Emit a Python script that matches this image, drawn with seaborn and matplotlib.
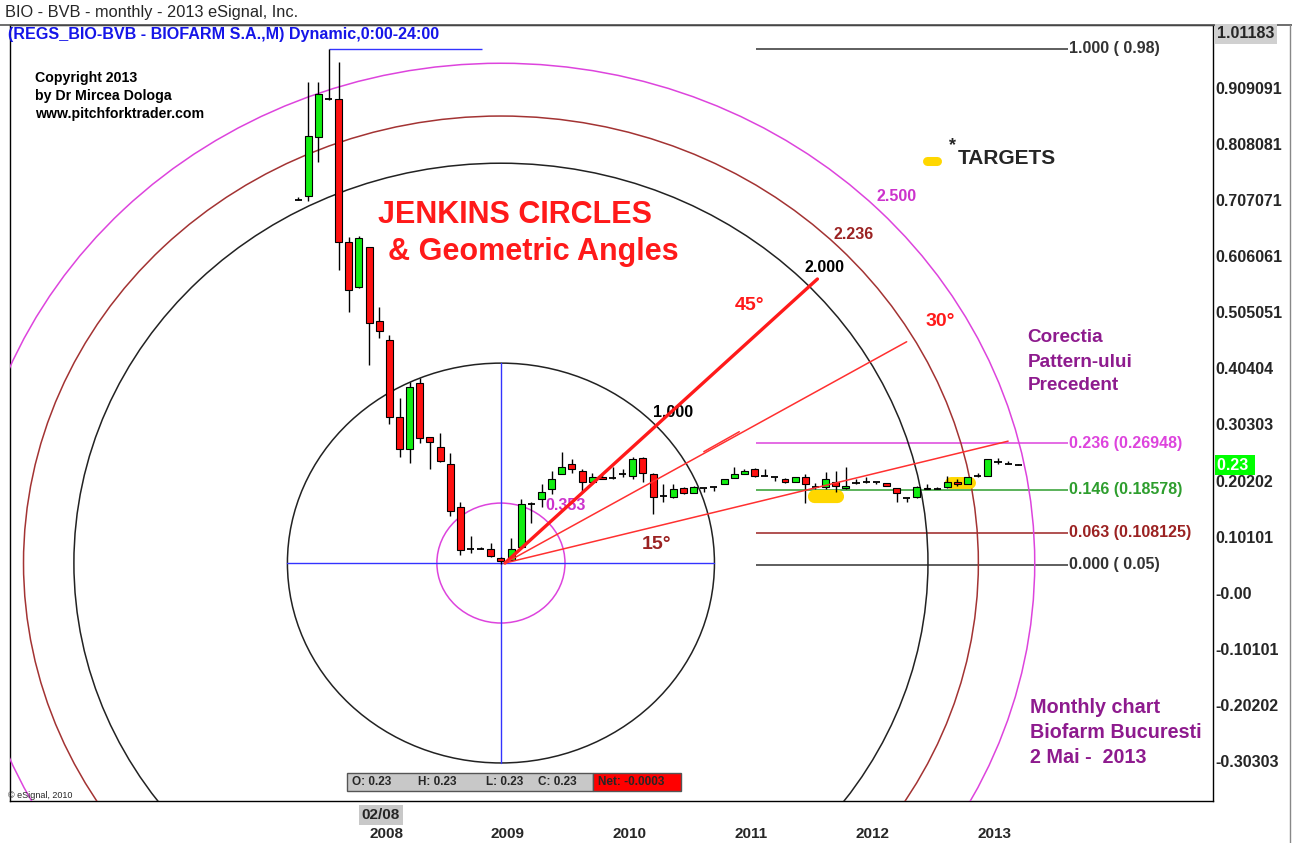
import numpy as np
import pandas as pd
import seaborn as sns
from matplotlib import pyplot as plt
from matplotlib.patches import Ellipse, Rectangle
from matplotlib.lines import Line2D

# monthly OHLC, BIO (Biofarm) - Jun 2007 .. May 2013
opens = [0.708, 0.715, 0.820, 0.890, 0.890, 0.631, 0.550, 0.622, 0.490, 0.456,
         0.317, 0.259, 0.377, 0.281, 0.263, 0.232, 0.155, 0.079, 0.079, 0.079,
         0.063, 0.059, 0.083, 0.159, 0.168, 0.186, 0.214, 0.232, 0.220, 0.200,
         0.209, 0.207, 0.213, 0.211, 0.243, 0.213, 0.175, 0.173, 0.189, 0.180,
         0.189, 0.191, 0.196, 0.207, 0.214, 0.223, 0.211, 0.209, 0.204, 0.200,
         0.209, 0.191, 0.191, 0.200, 0.189, 0.198, 0.200, 0.200, 0.198, 0.189,
         0.171, 0.173, 0.189, 0.186, 0.191, 0.200, 0.196, 0.211, 0.211, 0.236,
         0.232, 0.230]
highs = [0.713, 0.919, 0.919, 0.980, 0.955, 0.641, 0.643, 0.623, 0.515, 0.465,
         0.351, 0.380, 0.386, 0.281, 0.288, 0.252, 0.164, 0.103, 0.083, 0.090,
         0.065, 0.099, 0.168, 0.164, 0.195, 0.220, 0.254, 0.240, 0.223, 0.216,
         0.216, 0.227, 0.223, 0.245, 0.245, 0.216, 0.196, 0.195, 0.191, 0.193,
         0.189, 0.191, 0.204, 0.227, 0.223, 0.225, 0.223, 0.209, 0.207, 0.209,
         0.213, 0.198, 0.218, 0.220, 0.227, 0.204, 0.209, 0.200, 0.198, 0.189,
         0.171, 0.193, 0.195, 0.191, 0.211, 0.204, 0.209, 0.216, 0.240, 0.243,
         0.238, 0.232]
lows = [0.708, 0.705, 0.775, 0.888, 0.582, 0.505, 0.548, 0.411, 0.459, 0.303,
        0.245, 0.234, 0.270, 0.223, 0.236, 0.139, 0.068, 0.072, 0.079, 0.065,
        0.052, 0.057, 0.083, 0.126, 0.155, 0.177, 0.213, 0.216, 0.182, 0.196,
        0.204, 0.205, 0.209, 0.204, 0.200, 0.141, 0.164, 0.171, 0.178, 0.180,
        0.182, 0.184, 0.196, 0.207, 0.214, 0.209, 0.211, 0.202, 0.198, 0.200,
        0.162, 0.187, 0.186, 0.182, 0.186, 0.195, 0.198, 0.195, 0.193, 0.164,
        0.164, 0.171, 0.186, 0.186, 0.189, 0.193, 0.196, 0.209, 0.211, 0.231,
        0.232, 0.230]
closes = [0.708, 0.822, 0.899, 0.890, 0.632, 0.546, 0.638, 0.485, 0.472, 0.317,
          0.258, 0.371, 0.279, 0.272, 0.238, 0.148, 0.077, 0.079, 0.079, 0.067,
          0.058, 0.079, 0.159, 0.159, 0.182, 0.204, 0.227, 0.223, 0.200, 0.209,
          0.205, 0.207, 0.213, 0.240, 0.216, 0.173, 0.175, 0.187, 0.180, 0.191,
          0.189, 0.191, 0.204, 0.214, 0.220, 0.211, 0.211, 0.209, 0.200, 0.209,
          0.196, 0.191, 0.205, 0.193, 0.193, 0.198, 0.200, 0.200, 0.193, 0.180,
          0.171, 0.191, 0.186, 0.186, 0.200, 0.196, 0.209, 0.211, 0.240, 0.236,
          0.232, 0.230]
months = pd.date_range("2007-06-01", periods=len(opens), freq="MS")

# retracement levels (label, price, colour)
level_names = ["1.000 ( 0.98)", "0.236 (0.26948)", "0.146 (0.18578)", "0.063 (0.108125)", "0.000 ( 0.05)"]
level_prices = [0.98, 0.26948, 0.18578, 0.108125, 0.05]
level_colors = ["#333333", "#DD44DD", "#2E9E2E", "#9B2222", "#333333"]

# Jenkins circles (inner one drawn at its on-chart size)
circle_levels = [0.3, 1.0, 2.0, 2.236, 2.5]
circle_colors = ["#DD44DD", "#222222", "#222222", "#A33333", "#DD44DD"]

ytick_vals = [0.909091, 0.808081, 0.707071, 0.606061, 0.505051, 0.40404, 0.30303,
              0.20202, 0.10101, 0.0, -0.10101, -0.20202, -0.30303]
ytick_labels = ["0.909091", "0.808081", "0.707071", "0.606061", "0.505051", "0.40404",
                "0.30303", "0.20202", "0.10101", "-0.00", "-0.10101", "-0.20202", "-0.30303"]

W, H = 1292, 843
sns.set_theme(style="white")
plt.rcParams["font.family"] = ["Liberation Sans", "DejaVu Sans"]

fig = plt.figure(figsize=(W / 100, H / 100), dpi=100)
ax = fig.add_axes([10 / W, 1 - 801 / H, 1203 / W, 776 / H])

df = pd.DataFrame({"date": months, "open": opens, "high": highs, "low": lows, "close": closes})
df["x"] = np.arange(len(df))
up = df[df.close > df.open]
dn = df[df.close < df.open]
dj = df[df.close == df.open]

GREEN, RED = "#11EE11", "#FF1010"
ax.vlines(df.x, df.low, df.high, color="black", lw=1, zorder=4)
ax.bar(up.x, up.close - up.open, bottom=up.open, width=0.68, color=GREEN,
       edgecolor="black", lw=0.8, zorder=5)
ax.bar(dn.x, dn.open - dn.close, bottom=dn.close, width=0.68, color=RED,
       edgecolor="black", lw=0.8, zorder=5)
ax.hlines(dj.open, dj.x - 0.35, dj.x + 0.35, color="black", lw=1.3, zorder=5)

# circles around the low
cx, cy = 20.0, 0.0535
rx, ry = 21.05, 0.36
for lv, c in zip(circle_levels, circle_colors):
    ax.add_patch(Ellipse((cx, cy), 2 * rx * lv, 2 * ry * lv, fill=False, ec=c, lw=1.1, zorder=3))
ax.plot([cx, cx], [cy - ry, cy + ry], color="#3333FF", lw=1, zorder=3)
ax.plot([cx - rx, cx + rx], [cy, cy], color="#3333FF", lw=1, zorder=3)

# angle lines
ox, oy = 20.4, 0.0535
ax.plot([ox, 51.2], [oy, 0.565], color="#FF1A1A", lw=2.4, zorder=6)
ax.plot([ox, 60.0], [oy, 0.452], color="#FF3030", lw=1.1, zorder=6)
ax.plot([ox, 70.0], [oy, 0.273], color="#FF3030", lw=1.1, zorder=6)
ax.plot([40.0, 43.5], [0.254, 0.290], color="#FF3030", lw=1.1, zorder=6)

# high marker
ax.hlines(max(highs), int(np.argmax(highs)), 18.1, color="#3333FF", lw=1, zorder=3)

# retracement lines
for name, p, c in zip(level_names, level_prices, level_colors):
    ax.hlines(p, 45.1, 75.9, color=c, lw=1.1, zorder=2)
    ax.text(76.0, p, name, color=c, fontsize=11.5, fontweight="bold", va="center", ha="left")

# target highlights
ax.plot([50.9, 53.1], [0.175, 0.175], color="#FFD700", lw=9.5, solid_capstyle="round", zorder=3)
ax.plot([64.4, 66.2], [0.198, 0.198], color="#FFD700", lw=8.6, solid_capstyle="round", zorder=3)
ax.plot([62.0, 63.0], [0.777, 0.777], color="#FFD700", lw=6.5, solid_capstyle="round", zorder=3)
ax.text(64.2, 0.806, "*", fontsize=13, fontweight="bold", va="center", ha="left")
ax.text(65.0, 0.782, "TARGETS", fontsize=15, fontweight="bold", va="center", ha="left")

# annotations
ax.text(7.9, 0.680, "JENKINS CIRCLES", color="#FF1A1A", fontsize=22, fontweight="bold", va="center")
ax.text(8.9, 0.614, "& Geometric Angles", color="#FF1A1A", fontsize=22, fontweight="bold", va="center")
ax.text(43.1, 0.518, "45°", color="#FF1A1A", fontsize=14, fontweight="bold", va="center")
ax.text(61.9, 0.489, "30°", color="#FF1A1A", fontsize=14, fontweight="bold", va="center")
ax.text(33.9, 0.086, "15°", color="#9B2222", fontsize=14, fontweight="bold", va="center")
ax.text(35.0, 0.324, "1.000", color="black", fontsize=11.5, fontweight="bold", va="center")
ax.text(49.9, 0.585, "2.000", color="black", fontsize=11.5, fontweight="bold", va="center")
ax.text(52.8, 0.645, "2.236", color="#9B2222", fontsize=11.5, fontweight="bold", va="center")
ax.text(57.0, 0.713, "2.500", color="#CC33CC", fontsize=11.5, fontweight="bold", va="center")
ax.text(24.4, 0.158, "0.353", color="#CC33CC", fontsize=11.5, fontweight="bold", va="center")

PURPLE = "#8E1B8E"
for t, yy in zip(["Corectia", "Pattern-ului", "Precedent"], [0.459, 0.415, 0.374]):
    ax.text(71.9, yy, t, color=PURPLE, fontsize=13.6, fontweight="bold", va="center")
for t, yy in zip(["Monthly chart", "Biofarm Bucuresti", "2 Mai -  2013"], [-0.206, -0.251, -0.296]):
    ax.text(72.2, yy, t, color=PURPLE, fontsize=14.2, fontweight="bold", va="center")
for t, yy in zip(["Copyright 2013", "by Dr Mircea Dologa", "www.pitchforktrader.com"], [0.927, 0.895, 0.862]):
    ax.text(-25.9, yy, t, color="black", fontsize=10.2, fontweight="bold", va="center")

ax.set_xlim(-28.4, 90.2)
ax.set_ylim(-0.375, 1.0224)

# axes
ax.yaxis.tick_right()
ax.set_yticks(ytick_vals)
ax.set_yticklabels(ytick_labels, fontsize=11.5, fontweight="bold")
ax.tick_params(axis="y", length=0, pad=2)
year_idx = df.index[df.date.dt.month == 1]
ax.set_xticks(year_idx)
ax.set_xticklabels(df.date.dt.year[year_idx].astype(str), fontsize=11, fontweight="bold", ha="left")
ax.tick_params(axis="x", length=3, pad=19, direction="in")
for s in ax.spines.values():
    s.set_color("black")
    s.set_linewidth(1)

# figure furniture
fx = lambda px: px / W
fy = lambda py: 1 - py / H
fig.add_artist(Line2D([fx(0), fx(1292)], [fy(25), fy(25)], color="#555555", lw=1.2))
fig.add_artist(Line2D([fx(1290), fx(1290)], [fy(25), fy(843)], color="#888888", lw=1))
fig.text(fx(5), fy(12), "BIO - BVB - monthly - 2013 eSignal, Inc.", fontsize=11.8, va="center")
fig.text(fx(8), fy(35), "(REGS_BIO-BVB - BIOFARM S.A.,M) Dynamic,0:00-24:00", fontsize=11.6,
         fontweight="bold", color="#1515E8", va="center")
fig.text(fx(1217), fy(34), "1.01183", fontsize=11.5, fontweight="bold", va="center",
         bbox=dict(boxstyle="square,pad=0.15", fc="#D0D0D0", ec="none"))
fig.text(fx(1217), fy(465), "0.23 ", fontsize=11.5, fontweight="bold", va="center", color="white",
         bbox=dict(boxstyle="square,pad=0.15", fc="#00FF00", ec="none"))
fig.text(fx(8), fy(796), "© eSignal, 2010", fontsize=6.5, va="center")
fig.text(fx(381), fy(815), "02/08", fontsize=11, fontweight="bold", va="center", ha="center",
         bbox=dict(boxstyle="square,pad=0.2", fc="#C8C8C8", ec="none"))

# OHLC status box
fig.add_artist(Rectangle((fx(347), fy(791)), fx(593) - fx(347), fy(773) - fy(791),
                         fc="#C8C8C8", ec="#555555", lw=1))
fig.add_artist(Rectangle((fx(593), fy(791)), fx(681) - fx(593), fy(773) - fy(791),
                         fc="#FF0000", ec="#555555", lw=1))
for t, px in zip(["O: 0.23", "H: 0.23", "L: 0.23", "C: 0.23", "Net: -0.0003"], [352, 418, 486, 538, 598]):
    fig.text(fx(px), fy(782), t, fontsize=8.5, fontweight="bold", va="center")

fig.savefig("out.png", dpi=100)
